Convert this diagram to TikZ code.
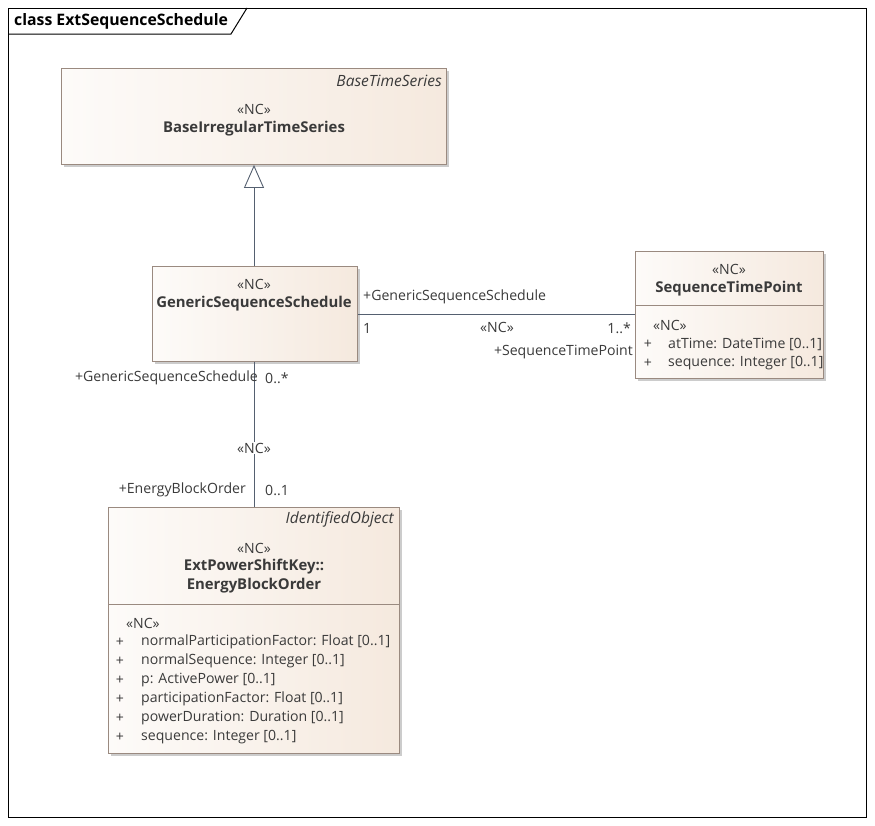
\documentclass[tikz,border=0pt]{standalone}
\usepackage{fontspec}
\setmainfont{Open Sans}
\usetikzlibrary{shadows,arrows.meta}
\definecolor{boxline}{HTML}{9A8A80}
\definecolor{boxL}{HTML}{FDFBF9}
\definecolor{boxR}{HTML}{F5E9DE}
\definecolor{conn}{HTML}{556070}
\definecolor{txt}{HTML}{3A3A3A}
\tikzset{
  umlbox/.style={draw=boxline, line width=0.9pt, left color=boxL, right color=boxR, anchor=north west, inner sep=0pt,
     drop shadow={shadow xshift=3pt, shadow yshift=-3pt, fill=black, opacity=0.2}},
  lbl/.style={font=\fontsize{14.1}{16}\selectfont, text=txt, inner sep=0pt},
  nm/.style={font=\fontsize{14.9}{17}\selectfont\bfseries, text=txt, inner sep=0pt},
  it/.style={font=\fontsize{15.5}{17}\selectfont\itshape, text=txt, inner sep=0pt},
  assoc/.style={draw=conn, line width=0.9pt},
}
\begin{document}
\begin{tikzpicture}[x=1pt,y=-1pt]
\useasboundingbox (0,0) rectangle (875,825);
\fill[white] (0,0) rectangle (875,825);
% frame
\draw[black, line width=1pt] (8,8) rectangle (866,817);
\draw[black, line width=1pt] (8,34) -- (231,34) -- (247,8);
\node[font=\fontsize{15.8}{18}\selectfont\bfseries, anchor=west, inner sep=0pt] (title) at (14,21) {class ExtSequenceSchedule};

% boxes
\node[umlbox, minimum width=385pt, minimum height=96pt] (base) at (61,68) {};
\node[umlbox, minimum width=205pt, minimum height=95pt] (gen) at (152,266) {};
\node[umlbox, minimum width=188pt, minimum height=127pt] (stp) at (635,251) {};
\node[umlbox, minimum width=291pt, minimum height=246pt] (ebo) at (108,507) {};
\draw[boxline, line width=0.9pt] (635,305) -- (823,305);
\draw[boxline, line width=0.9pt] (108,604) -- (399,604);

% base texts
\node[it, anchor=east] (baseP) at (442,81) {BaseTimeSeries};
\node[lbl] (baseS) at (254,109) {«NC»};
\node[nm] (baseN) at (254,129) {BaseIrregularTimeSeries};

% generic texts
\node[lbl] (genS) at (254,284) {«NC»};
\node[nm] (genN) at (254,304) {GenericSequenceSchedule};

% sequence time point
\node[lbl] (stpS) at (729,269) {«NC»};
\node[nm] (stpN) at (729,289) {SequenceTimePoint};
\node[lbl, anchor=west] (stpA) at (653,325) {«NC»};
\node[lbl] (stpp1) at (648,344) {+};
\node[lbl, anchor=west] (stpa1) at (668,344) {atTime: DateTime [0..1]};
\node[lbl] (stpp2) at (648,363) {+};
\node[lbl, anchor=west] (stpa2) at (668,363) {sequence: Integer [0..1]};

% energy block order
\node[it, anchor=east] (eboP) at (394,519) {IdentifiedObject};
\node[lbl] (eboS) at (254,548) {«NC»};
\node[nm] (eboN1) at (254,567) {ExtPowerShiftKey::};
\node[nm] (eboN2) at (254,586) {EnergyBlockOrder};
\node[lbl, anchor=west] (eboA) at (126,623) {«NC»};
\foreach \y/\t [count=\i] in {642/{normalParticipationFactor: Float [0..1]},
                  661/{normalSequence: Integer [0..1]},
                  680/{p: ActivePower [0..1]},
                  699/{participationFactor: Float [0..1]},
                  718/{powerDuration: Duration [0..1]},
                  737/{sequence: Integer [0..1]}}{
  \node[lbl] (ebop\i) at (120,\y) {+};
  \node[lbl, anchor=west] (eboa\i) at (141,\y) {\t};
}

% generalization
\coordinate (gtop) at (254,164);
\draw[assoc, -{Triangle[open, length=23pt, width=20pt, fill=white]}] (gen.north -| gtop) -- (base.south -| gtop);

% association gen - stp
\draw[assoc] (gen.east |- 0,314) -- (stp.west |- 0,314);
\node[lbl, anchor=west] (r1) at (363,297) {+GenericSequenceSchedule};
\node[lbl, anchor=west] (m1) at (363,328) {1};
\node[lbl] (s1) at (497,327) {«NC»};
\node[lbl, anchor=east] (m2) at (631,328) {1..*};
\node[lbl, anchor=east] (r2) at (633,352) {+SequenceTimePoint};

% association gen - ebo
\draw[assoc] (gen.south -| gtop) -- (ebo.north -| gtop);
\node[lbl, anchor=east] (r3) at (258,378) {+GenericSequenceSchedule};
\node[lbl, anchor=west] (m3) at (265,378) {0..*};
\node[lbl, fill=white, inner sep=1pt] (s2) at (254,448) {«NC»};
\node[lbl, anchor=east] (r4) at (246,490) {+EnergyBlockOrder};
\node[lbl, anchor=west] (m4) at (265,490) {0..1};
\end{tikzpicture}
\end{document}
